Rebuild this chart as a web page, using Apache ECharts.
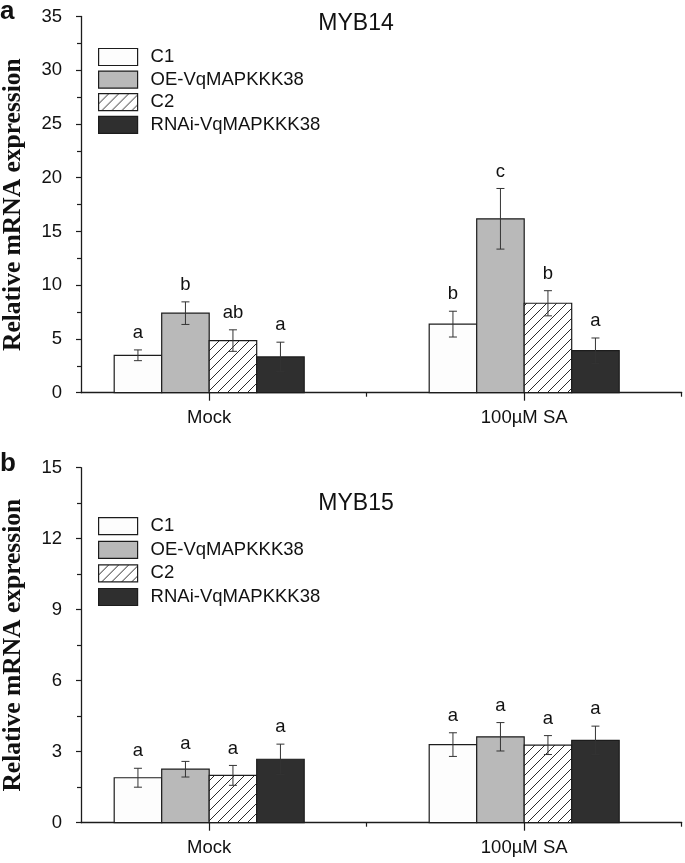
<!DOCTYPE html>
<html>
<head>
<meta charset="utf-8">
<script src="https://cdn.jsdelivr.net/npm/echarts@6/dist/echarts.min.js"></script>
<style>html,body{margin:0;padding:0;background:#fff}#c{width:685px;height:863px}</style>
</head>
<body>
<div id="c"></div>
<script>
// ---------- data ----------
const groups = ['Mock', '100µM SA'];
const seriesNames = ['C1', 'OE-VqMAPKKK38', 'C2', 'RNAi-VqMAPKKK38'];
const panelTitles = ['MYB14', 'MYB15'];
const panelLetters = ['a', 'b'];

// MYB14 (means per series: [Mock, 100µM SA])
const myb14C1 = [3.48, 6.38];
const myb14OE = [7.40, 16.18];
const myb14C2 = [4.85, 8.32];
const myb14RNAi = [3.33, 3.91];
const myb14ErrC1 = [0.50, 1.20];
const myb14ErrOE = [1.05, 2.82];
const myb14ErrC2 = [1.00, 1.17];
const myb14ErrRNAi = [1.37, 1.18];
const myb14LettersC1 = ['a', 'b'];
const myb14LettersOE = ['b', 'c'];
const myb14LettersC2 = ['ab', 'b'];
const myb14LettersRNAi = ['a', 'a'];

// MYB15
const myb15C1 = [1.90, 3.30];
const myb15OE = [2.26, 3.63];
const myb15C2 = [2.00, 3.28];
const myb15RNAi = [2.68, 3.48];
const myb15ErrC1 = [0.40, 0.50];
const myb15ErrOE = [0.33, 0.60];
const myb15ErrC2 = [0.42, 0.40];
const myb15ErrRNAi = [0.64, 0.60];
const myb15LettersC1 = ['a', 'a'];
const myb15LettersOE = ['a', 'a'];
const myb15LettersC2 = ['a', 'a'];
const myb15LettersRNAi = ['a', 'a'];

// y-axis ticks
const yTicks14 = {min: 0, max: 35, interval: 5};
const yTicks15 = {min: 0, max: 15, interval: 3};

// ---------- styles ----------
const SANS = "'Liberation Sans', Arial, sans-serif";
const SERIF = "'Liberation Serif', 'Times New Roman', serif";
const TXT = '#111';
const LINE = '#1c1c1c';
const BAR_W = 47.5;
const FS = 18.5;

function hatch() {
  const s = 10;
  const cv = document.createElement('canvas');
  cv.width = s; cv.height = s;
  const g = cv.getContext('2d');
  g.fillStyle = '#fff';
  g.fillRect(0, 0, s, s);
  g.strokeStyle = '#2a2a2a';
  g.lineWidth = 1;
  g.beginPath();
  g.moveTo(-1, s + 1); g.lineTo(s + 1, -1);
  g.moveTo(-1, 1); g.lineTo(1, -1);
  g.moveTo(s - 1, s + 1); g.lineTo(s + 1, s - 1);
  g.stroke();
  return {image: cv, repeat: 'repeat'};
}
const fills = ['#fdfdfd', '#b9b9b9', hatch(), '#2f2f2f'];

const panels = [
  {means: [myb14C1, myb14OE, myb14C2, myb14RNAi],
   errs: [myb14ErrC1, myb14ErrOE, myb14ErrC2, myb14ErrRNAi],
   letters: [myb14LettersC1, myb14LettersOE, myb14LettersC2, myb14LettersRNAi],
   y: yTicks14, gridTop: 16.5, gridH: 376.2, legendTop: 47.5, legendGap: 3.6, titleTop: 12, letterTop: -1},
  {means: [myb15C1, myb15OE, myb15C2, myb15RNAi],
   errs: [myb15ErrC1, myb15ErrOE, myb15ErrC2, myb15ErrRNAi],
   letters: [myb15LettersC1, myb15LettersOE, myb15LettersC2, myb15LettersRNAi],
   y: yTicks15, gridTop: 467.7, gridH: 355, legendTop: 516.7, legendGap: 4.6, titleTop: 492, letterTop: 451}
];

const X_MAX = 1.5;
const X_MIN = 1.5 - 600.7 / 315;

const grid = [], xAxis = [], yAxis = [], series = [], legend = [], title = [], graphic = [];

panels.forEach((p, pi) => {
  grid.push({left: 81, right: 3.3, top: p.gridTop, height: p.gridH, outerBoundsMode: 'none', containLabel: false});
  // main x axis: line, centre ticks, labels
  xAxis.push({
    gridIndex: pi, type: 'value', min: X_MIN, max: X_MAX,
    axisLine: {show: true, onZero: false, lineStyle: {color: LINE, width: 1.3}},
    axisTick: {show: true, customValues: [0, 1], length: 8, lineStyle: {color: LINE, width: 1.2}},
    axisLabel: {show: true, customValues: [0, 1], formatter: v => groups[Math.round(v)] || '',
      margin: 16, fontSize: FS, fontFamily: SANS, color: TXT},
    splitLine: {show: false}
  });
  // secondary x axis: short boundary ticks
  xAxis.push({
    gridIndex: pi, type: 'value', min: X_MIN, max: X_MAX, position: 'bottom',
    axisLine: {show: false, onZero: false},
    axisTick: {show: true, customValues: [0.5, 1.5], length: 4, lineStyle: {color: LINE, width: 1.2}},
    axisLabel: {show: false},
    splitLine: {show: false}
  });
  yAxis.push({
    gridIndex: pi, type: 'value', min: p.y.min, max: p.y.max, interval: p.y.interval,
    axisLine: {show: true, onZero: false, lineStyle: {color: LINE, width: 1.3}},
    axisTick: {show: true, length: 5, lineStyle: {color: LINE, width: 1.2}},
    minorTick: {show: true, splitNumber: 2, length: 4, lineStyle: {color: LINE, width: 1.2}},
    splitLine: {show: false},
    axisLabel: {margin: 19, fontSize: FS, fontFamily: SANS, color: TXT},
    name: 'Relative mRNA expression', nameLocation: 'middle', nameGap: 55,
    nameTextStyle: {fontFamily: SERIF, fontWeight: 'bold', fontSize: 25.5, color: TXT}
  });
  seriesNames.forEach((nm, k) => {
    const means = p.means[k], errs = p.errs[k], letters = p.letters[k];
    series.push({
      type: 'custom', name: nm, xAxisIndex: pi * 2, yAxisIndex: pi,
      itemStyle: {color: fills[k], borderColor: LINE, borderWidth: 1.2},
      encode: {x: 0, y: 1},
      data: groups.map((g, j) => [j, means[j], errs[j]]),
      renderItem: (params, api) => {
        const gi = api.value(0), m = api.value(1), e = api.value(2);
        const base = api.coord([gi, 0]);
        const top = api.coord([gi, m]);
        const cx = base[0] + (k - 1.5) * BAR_W;
        const hi = api.coord([gi, m + e])[1];
        const lo = api.coord([gi, m - e])[1];
        const cap = 4;
        const ls = {stroke: '#333', lineWidth: 1};
        return {
          type: 'group',
          children: [
            {type: 'rect', shape: {x: cx - BAR_W / 2, y: top[1], width: BAR_W, height: base[1] - top[1]},
             style: {fill: fills[k], stroke: LINE, lineWidth: 1.2}},
            {type: 'line', shape: {x1: cx, y1: hi, x2: cx, y2: lo}, style: ls},
            {type: 'line', shape: {x1: cx - cap, y1: hi, x2: cx + cap, y2: hi}, style: ls},
            {type: 'line', shape: {x1: cx - cap, y1: lo, x2: cx + cap, y2: lo}, style: ls},
            {type: 'text', x: cx, y: hi - 17,
             style: {text: letters[params.dataIndex], fill: TXT, font: FS + 'px ' + SANS,
               textAlign: 'center', textVerticalAlign: 'middle'}}
          ]
        };
      }
    });
  });
  legend.push({
    orient: 'vertical', left: 98, top: p.legendTop, itemWidth: 39, itemHeight: 17, itemGap: p.legendGap,
    padding: 0, icon: 'rect', data: seriesNames, selectedMode: false,
    itemStyle: {borderColor: LINE, borderWidth: 1.2},
    textStyle: {fontSize: FS, fontFamily: SANS, color: TXT, lineHeight: 17, padding: [0, 0, 0, 8]}
  });
  title.push({
    text: panelTitles[pi], left: 356, top: p.titleTop, textAlign: 'center', padding: 0,
    textStyle: {fontSize: 23, fontWeight: 'normal', fontFamily: SANS, color: TXT}
  });
  graphic.push({
    type: 'text', left: 0, top: p.letterTop,
    style: {text: panelLetters[pi], font: 'bold 26px ' + SANS, fill: TXT}
  });
});

const chart = echarts.init(document.getElementById('c'), null, {renderer: 'canvas'});
chart.setOption({
  animation: false,
  backgroundColor: '#fff',
  title, legend, grid, xAxis, yAxis, series, graphic
});
</script>
</body>
</html>
